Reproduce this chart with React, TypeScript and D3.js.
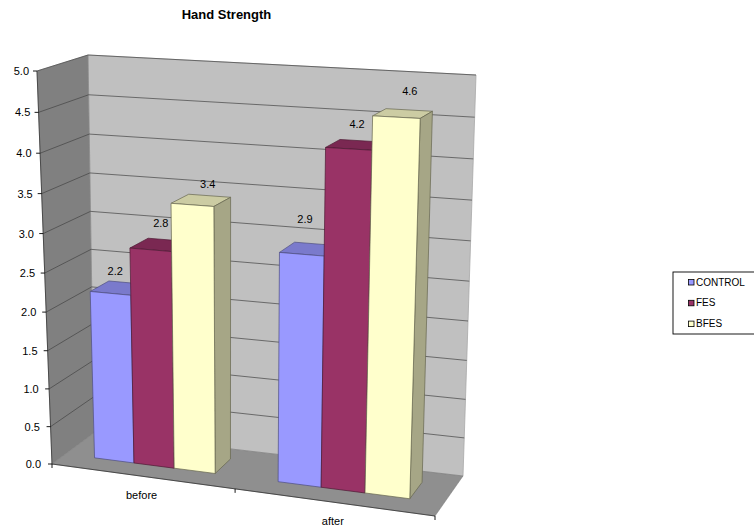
import React from "react";
import * as d3 from "d3";

const categories = ["before", "after"];
const seriesNames = ["CONTROL", "FES", "BFES"];
const controlValues = [2.2, 2.9];
const fesValues = [2.8, 4.2];
const bfesValues = [3.4, 4.6];
const valueTicks = [0, 0.5, 1, 1.5, 2, 2.5, 3, 3.5, 4, 4.5, 5];

const allSeries = [controlValues, fesValues, bfesValues];
const faceFill = ["#9999FF", "#993366", "#FFFFCC"];
const topFill = ["#7A7ACC", "#7A2852", "#CCCCA3"];
const sideFill = ["#7373BF", "#73264D", "#A6A686"];
const edgeStroke = ["#4d4d80", "#4d1a33", "#66664f"];

// Data label placement around each bar's top, per series and per category
const labelShiftX = [-3, 2.5, 8];
const labelLift = [
  [14, 27],
  [19, 17],
  [13, 19],
];

type Pt = [number, number];

// Corners of the plot cube: [left/right][bottom/top][front/back]
const cube = {
  lbf: [52, 464] as Pt,
  ltf: [37, 71] as Pt,
  rbf: [435, 516] as Pt,
  rtf: [449, 90] as Pt,
  lbb: [94, 433] as Pt,
  ltb: [88, 55] as Pt,
  rbb: [463, 476] as Pt,
  rtb: [476, 75] as Pt,
};

// Perspective foreshortening of a unit coordinate
const foreshorten = (a: number) => (t: number) => (t * a) / (1 + t * (a - 1));
const warpX = foreshorten(0.916);
const warpY = foreshorten(0.945);

const mix = (p: Pt, q: Pt, t: number): Pt => [
  p[0] + (q[0] - p[0]) * t,
  p[1] + (q[1] - p[1]) * t,
];

const valueFrac = d3.scaleLinear().domain([0, 5]).range([0, 1]);

// Maps category position (0..1), value and depth (0..1) onto the page
function project(u: number, value: number, z: number): Pt {
  const tx = warpX(u);
  const ty = warpY(valueFrac(value));
  const bottomFront = mix(cube.lbf, cube.rbf, tx);
  const topFront = mix(cube.ltf, cube.rtf, tx);
  const bottomBack = mix(cube.lbb, cube.rbb, tx);
  const topBack = mix(cube.ltb, cube.rtb, tx);
  return mix(mix(bottomFront, topFront, ty), mix(bottomBack, topBack, ty), z);
}

const categoryBand = d3.scaleBand<string>().domain(categories).range([0, 1]);
const seriesBand = d3
  .scaleBand<string>()
  .domain(seriesNames)
  .range([0, categoryBand.bandwidth()])
  .paddingOuter(0.75)
  .paddingInner(0);

const path = d3.line<Pt>().curve(d3.curveLinearClosed);
const segment = d3.line<Pt>();

const barDepth: [number, number] = [0.32, 0.74];
const FONT = "'Liberation Sans', Arial, sans-serif";

function Bar({ u0, u1, value, i }: { u0: number; u1: number; value: number; i: number }) {
  const [z0, z1] = barDepth;
  const a = project(u0, 0, z0);
  const b = project(u1, 0, z0);
  const c = project(u1, value, z0);
  const d = project(u0, value, z0);
  const e = project(u0, value, z1);
  const f = project(u1, value, z1);
  const g = project(u1, 0, z1);
  const common = { stroke: edgeStroke[i], strokeWidth: 0.7, strokeLinejoin: "round" as const };
  return (
    <g>
      <path d={path([d, c, f, e])!} fill={topFill[i]} {...common} />
      <path d={path([b, g, f, c])!} fill={sideFill[i]} {...common} />
      <path d={path([a, b, c, d])!} fill={faceFill[i]} {...common} />
    </g>
  );
}

export default function App() {
  const tickLabel = d3.format(".1f");
  return (
    <svg
      width={754}
      height={532}
      style={{ position: "absolute", left: 0, top: 0, fontFamily: FONT }}
    >
      <rect width={754} height={532} fill="#fff" />
      <text x={226.5} y={18.5} fontSize={13} fontWeight="bold" textAnchor="middle" fill="#000">
        Hand Strength
      </text>

      <path d={path([cube.lbb, cube.ltb, cube.rtb, cube.rbb])!} fill="#C0C0C0" stroke="#a8a8a8" strokeWidth={0.8} />
      <path d={path([cube.lbf, cube.ltf, cube.ltb, cube.lbb])!} fill="#808080" stroke="#8c8c8c" strokeWidth={0.6} />
      <path d={path([cube.lbf, cube.lbb, cube.rbb, cube.rbf])!} fill="#8F8F8F" stroke="#777" strokeWidth={0.5} />

      {valueTicks.filter((v) => v > 0).map((v) => (
        <path
          key={v}
          d={segment([project(0, v, 0), project(0, v, 1), project(1, v, 1)])!}
          fill="none"
          stroke="#444"
          strokeWidth={0.7}
        />
      ))}

      <path d={segment([cube.ltf, cube.lbf, cube.rbf])!} fill="none" stroke="#333" strokeWidth={0.8} />

      {valueTicks.map((v) => {
        const [x, y] = project(0, v, 0);
        return (
          <g key={v}>
            <line x1={x - 4} x2={x} y1={y} y2={y} stroke="#000" strokeWidth={0.9} />
            <text x={x - 8 - (x - 37) * 0.2} y={y + 4} fontSize={11} textAnchor="end" fill="#000">
              {tickLabel(v)}
            </text>
          </g>
        );
      })}

      {[0, 0.5, 1].map((u) => {
        const [x, y] = project(u, 0, 0);
        return <line key={u} x1={x} x2={x} y1={y} y2={y + 4} stroke="#000" strokeWidth={0.9} />;
      })}

      {categories.map((cat) => {
        const mid = (categoryBand(cat) ?? 0) + categoryBand.bandwidth() / 2;
        const [x, y] = project(mid, 0, 0);
        return (
          <text key={cat} x={x} y={y + 23} fontSize={11} textAnchor="middle" fill="#000">
            {cat}
          </text>
        );
      })}

      {categories.map((cat, ci) =>
        seriesNames.map((name, si) => {
          const u0 = (categoryBand(cat) ?? 0) + (seriesBand(name) ?? 0);
          return (
            <Bar key={cat + name} u0={u0} u1={u0 + seriesBand.bandwidth()} value={allSeries[si][ci]} i={si} />
          );
        })
      )}

      {categories.map((cat, ci) =>
        seriesNames.map((name, si) => {
          const u0 = (categoryBand(cat) ?? 0) + (seriesBand(name) ?? 0);
          const value = allSeries[si][ci];
          const [x, y] = project(u0 + seriesBand.bandwidth() / 2, value, 0.5);
          return (
            <text key={cat + name} x={x + labelShiftX[si]} y={y - labelLift[si][ci]} fontSize={11} textAnchor="middle" fill="#000">
              {value.toFixed(1)}
            </text>
          );
        })
      )}

      <rect x={673} y={272} width={90} height={62} fill="#fff" stroke="#000" strokeWidth={0.9} />
      {seriesNames.map((name, i) => {
        const y = 282 + i * 20.8;
        return (
          <g key={name}>
            <rect x={688.5} y={y - 2.5} width={5.5} height={5.5} fill={faceFill[i]} stroke="#000" strokeWidth={0.8} />
            <text x={696} y={y + 3.5} fontSize={10} fill="#000">
              {name}
            </text>
          </g>
        );
      })}
    </svg>
  );
}
